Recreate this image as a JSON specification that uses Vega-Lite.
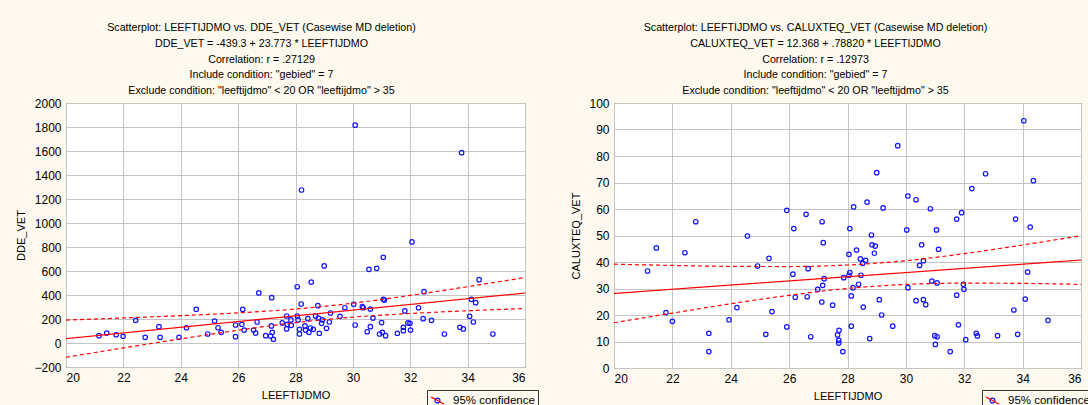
{
  "$schema": "https://vega.github.io/schema/vega-lite/v6.json",
  "background": "#fdf9ee",
  "padding": {"left": 15, "top": 21, "right": 0, "bottom": 0},
  "resolve": {"scale": {"color": "independent", "strokeDash": "independent"}, "legend": {"color": "independent", "strokeDash": "independent"}},
  "config": {
    "font": "Liberation Sans",
    "view": {"stroke": "#3a3a3a", "strokeWidth": 1, "fill": "white"},
    "axis": {"grid": true, "gridColor": "#c4c4c4", "gridWidth": 1, "domain": false, "ticks": false, "labelFontSize": 12, "labelColor": "#000", "titleFontSize": 11, "titleFontWeight": "normal", "titleColor": "#000", "labelPadding": 5, "labelOverlap": false, "format": "d"},
    "title": {"fontSize": 10.7, "fontWeight": "normal", "color": "#000", "lineHeight": 15.8, "offset": 6, "dy": 6, "frame": "group", "anchor": "middle"},
    "concat": {"spacing": 31}
  },
  "datasets": {
    "dde": [
      {"x":21.15,"y":61},{"x":21.42,"y":83},{"x":21.75,"y":69},{"x":21.99,"y":56},{"x":22.43,"y":189},{"x":22.76,"y":47},{"x":23.24,"y":136},{"x":23.28,"y":47},{"x":23.94,"y":47},{"x":24.2,"y":127},{"x":24.54,"y":281},{"x":24.94,"y":75},{"x":25.18,"y":183},{"x":25.3,"y":127},{"x":25.41,"y":89},{"x":25.91,"y":150},{"x":25.91,"y":53},{"x":26.16,"y":281},{"x":26.13,"y":156},{"x":26.21,"y":108},{"x":26.54,"y":108},{"x":26.61,"y":83},{"x":26.66,"y":175},{"x":26.72,"y":417},{"x":26.96,"y":61},{"x":27.17,"y":378},{"x":27.16,"y":142},{"x":27.13,"y":58},{"x":27.19,"y":89},{"x":27.23,"y":31},{"x":27.54,"y":167},{"x":27.69,"y":225},{"x":27.69,"y":117},{"x":27.71,"y":156},{"x":27.84,"y":192},{"x":27.85,"y":147},{"x":28.06,"y":469},{"x":28.06,"y":225},{"x":28.09,"y":192},{"x":28.14,"y":114},{"x":28.14,"y":75},{"x":28.2,"y":325},{"x":28.21,"y":1275},{"x":28.33,"y":142},{"x":28.35,"y":108},{"x":28.43,"y":203},{"x":28.47,"y":89},{"x":28.52,"y":125},{"x":28.55,"y":508},{"x":28.62,"y":114},{"x":28.7,"y":225},{"x":28.78,"y":311},{"x":28.8,"y":208},{"x":28.83,"y":81},{"x":28.91,"y":164},{"x":28.94,"y":192},{"x":29.0,"y":642},{"x":29.08,"y":122},{"x":29.18,"y":175},{"x":29.22,"y":250},{"x":29.55,"y":222},{"x":29.72,"y":294},{"x":30.03,"y":322},{"x":30.08,"y":150},{"x":30.08,"y":1815},{"x":30.33,"y":303},{"x":30.36,"y":294},{"x":30.5,"y":94},{"x":30.56,"y":614},{"x":30.61,"y":136},{"x":30.61,"y":283},{"x":30.7,"y":208},{"x":30.83,"y":622},{"x":30.93,"y":75},{"x":31.0,"y":170},{"x":31.03,"y":89},{"x":31.06,"y":714},{"x":31.06,"y":364},{"x":31.1,"y":358},{"x":31.14,"y":61},{"x":31.55,"y":81},{"x":31.76,"y":131},{"x":31.76,"y":103},{"x":31.81,"y":267},{"x":31.92,"y":167},{"x":31.99,"y":164},{"x":32.01,"y":108},{"x":32.06,"y":842},{"x":32.29,"y":294},{"x":32.45,"y":203},{"x":32.48,"y":428},{"x":32.74,"y":189},{"x":33.19,"y":75},{"x":33.73,"y":131},{"x":33.79,"y":1586},{"x":33.85,"y":117},{"x":34.07,"y":222},{"x":34.13,"y":364},{"x":34.2,"y":175},{"x":34.28,"y":336},{"x":34.4,"y":528},{"x":34.88,"y":75}
    ],
    "ddeFit": [
      {"x":20,"fit":36.2,"lo":-118.8,"hi":191.2},
      {"x":22,"fit":83.7,"lo":-41.3,"hi":208.7},
      {"x":24,"fit":131.2,"lo":34.5,"hi":227.9},
      {"x":26,"fit":178.8,"lo":106.6,"hi":251.0},
      {"x":28,"fit":226.3,"lo":169.5,"hi":283.1},
      {"x":30,"fit":273.9,"lo":215.8,"hi":332.0},
      {"x":32,"fit":321.4,"lo":246.2,"hi":396.6},
      {"x":34,"fit":369.0,"lo":268.5,"hi":469.5},
      {"x":36,"fit":416.5,"lo":287.5,"hi":545.5}
    ],
    "calux": [
      {"x":21.15,"y":36.6},{"x":21.45,"y":45.3},{"x":21.78,"y":20.9},{"x":22.0,"y":17.6},{"x":22.43,"y":43.5},{"x":22.8,"y":55.2},{"x":23.25,"y":13.1},{"x":23.25,"y":6.2},{"x":23.94,"y":18.2},{"x":24.21,"y":22.8},{"x":24.57,"y":49.8},{"x":24.92,"y":38.5},{"x":25.2,"y":12.7},{"x":25.31,"y":41.4},{"x":25.41,"y":21.3},{"x":25.92,"y":59.5},{"x":25.92,"y":15.5},{"x":26.13,"y":35.4},{"x":26.16,"y":52.6},{"x":26.21,"y":26.7},{"x":26.58,"y":58},{"x":26.62,"y":26.9},{"x":26.65,"y":37.5},{"x":26.74,"y":11.8},{"x":26.98,"y":29.7},{"x":27.12,"y":24.9},{"x":27.13,"y":55.2},{"x":27.15,"y":31.2},{"x":27.17,"y":47.3},{"x":27.2,"y":33.7},{"x":27.49,"y":23.7},{"x":27.66,"y":12.5},{"x":27.7,"y":10.4},{"x":27.7,"y":9.4},{"x":27.71,"y":14.2},{"x":27.84,"y":6.2},{"x":27.87,"y":34.1},{"x":28.05,"y":42.9},{"x":28.05,"y":35},{"x":28.08,"y":36},{"x":28.08,"y":52.6},{"x":28.13,"y":27.2},{"x":28.13,"y":15.8},{"x":28.19,"y":30.3},{"x":28.21,"y":60.8},{"x":28.31,"y":44.5},{"x":28.38,"y":31.6},{"x":28.44,"y":41.2},{"x":28.46,"y":35},{"x":28.52,"y":39.5},{"x":28.54,"y":23},{"x":28.62,"y":40.6},{"x":28.67,"y":62.6},{"x":28.76,"y":11.1},{"x":28.82,"y":50.2},{"x":28.84,"y":46.5},{"x":28.92,"y":43.3},{"x":28.95,"y":46},{"x":29.0,"y":73.7},{"x":29.09,"y":25.8},{"x":29.17,"y":20},{"x":29.22,"y":60.4},{"x":29.55,"y":15.8},{"x":29.72,"y":83.9},{"x":30.03,"y":52.1},{"x":30.07,"y":30.3},{"x":30.07,"y":64.9},{"x":30.35,"y":25.4},{"x":30.35,"y":63.5},{"x":30.47,"y":38.7},{"x":30.54,"y":46.5},{"x":30.6,"y":40.5},{"x":30.6,"y":25.8},{"x":30.68,"y":23.9},{"x":30.84,"y":60.1},{"x":30.89,"y":32.8},{"x":30.99,"y":12.2},{"x":31.01,"y":8.9},{"x":31.05,"y":52.1},{"x":31.07,"y":32.1},{"x":31.07,"y":11.8},{"x":31.12,"y":44.8},{"x":31.52,"y":6.2},{"x":31.74,"y":27.5},{"x":31.74,"y":56.2},{"x":31.8,"y":16.3},{"x":31.91,"y":58.6},{"x":31.97,"y":31.6},{"x":31.99,"y":29.7},{"x":32.05,"y":10.7},{"x":32.26,"y":67.7},{"x":32.41,"y":13.1},{"x":32.45,"y":12.1},{"x":32.73,"y":73.3},{"x":33.14,"y":12.2},{"x":33.7,"y":21.9},{"x":33.76,"y":56.2},{"x":33.83,"y":12.7},{"x":34.04,"y":93.3},{"x":34.09,"y":26},{"x":34.17,"y":36.2},{"x":34.26,"y":53.2},{"x":34.37,"y":70.7},{"x":34.87,"y":18}
    ],
    "caluxFit": [
      {"x":20,"fit":28.13,"lo":17.08,"hi":39.18},
      {"x":22,"fit":29.71,"lo":20.72,"hi":38.70},
      {"x":24,"fit":31.30,"lo":24.24,"hi":38.36},
      {"x":26,"fit":32.86,"lo":27.43,"hi":38.29},
      {"x":28,"fit":34.44,"lo":30.02,"hi":38.86},
      {"x":30,"fit":36.01,"lo":31.53,"hi":40.49},
      {"x":32,"fit":37.59,"lo":32.02,"hi":43.16},
      {"x":34,"fit":39.17,"lo":31.92,"hi":46.42},
      {"x":36,"fit":40.74,"lo":31.55,"hi":49.93}
    ]
  },
  "hconcat": [
    {
      "width": 459,
      "height": 264,
      "title": {"text": ["Scatterplot: LEEFTIJDMO vs. DDE_VET (Casewise MD deletion)", "DDE_VET = -439.3 + 23.773 * LEEFTIJDMO", "Correlation: r = .27129", "Include condition: \"gebied\" = 7", "Exclude condition: \"leeftijdmo\" < 20 OR \"leeftijdmo\" > 35"], "dx": -34},
      "encoding": {
        "x": {"field": "x", "type": "quantitative", "scale": {"domain": [20, 36], "nice": false}, "axis": {"title": "LEEFTIJDMO", "values": [20,22,24,26,28,30,32,34,36], "titlePadding": 6}}
      },
      "layer": [
        {
          "data": {"name": "dde"},
          "mark": {"type": "point", "filled": false, "size": 20, "strokeWidth": 1.2, "opacity": 1},
          "encoding": {
            "y": {"field": "y", "type": "quantitative", "scale": {"domain": [-200, 2000], "nice": false}, "axis": {"title": "DDE_VET", "values": [-200,0,200,400,600,800,1000,1200,1400,1600,1800,2000], "titlePadding": 7}},
            "color": {"datum": "95% confidence", "scale": {"range": ["#1414ff"]}, "legend": {"orient": "none", "legendX": 361, "legendY": 287, "title": null, "labelFontSize": 11.5, "labelColor": "#000", "labelOffset": 8, "strokeColor": "#333", "padding": 3, "symbolType": "M0.38,0A0.38,0.38,0,1,1,-0.38,0A0.38,0.38,0,1,1,0.38,0Z", "symbolSize": 169, "symbolStrokeWidth": 1.2, "symbolFillColor": "transparent"}}
          }
        },
        {
          "data": {"name": "ddeFit"},
          "mark": {"type": "line", "color": "#ff0000", "strokeWidth": 1.2, "interpolate": "monotone"},
          "encoding": {
            "y": {"field": "fit", "type": "quantitative", "axis": {"title": "DDE_VET", "values": [-200,0,200,400,600,800,1000,1200,1400,1600,1800,2000], "titlePadding": 7}},
            "strokeDash": {"datum": "fit", "scale": {"range": [[1, 0]]}, "legend": {"orient": "none", "legendX": 361, "legendY": 287, "title": null, "labelExpr": "''", "padding": 3, "symbolType": "M-1,-0.55L1,0.55", "symbolSize": 169, "symbolStrokeColor": "#ff0000", "symbolStrokeWidth": 1.2}}
          }
        },
        {
          "data": {"name": "ddeFit"},
          "mark": {"type": "line", "color": "#ff0000", "strokeWidth": 1.2, "strokeDash": [4, 3], "interpolate": "monotone"},
          "encoding": {"y": {"field": "lo", "type": "quantitative", "axis": {"title": "DDE_VET", "values": [-200,0,200,400,600,800,1000,1200,1400,1600,1800,2000], "titlePadding": 7}}}
        },
        {
          "data": {"name": "ddeFit"},
          "mark": {"type": "line", "color": "#ff0000", "strokeWidth": 1.2, "strokeDash": [4, 3], "interpolate": "monotone"},
          "encoding": {"y": {"field": "hi", "type": "quantitative", "axis": {"title": "DDE_VET", "values": [-200,0,200,400,600,800,1000,1200,1400,1600,1800,2000], "titlePadding": 7}}}
        }
      ]
    },
    {
      "width": 467,
      "height": 265,
      "title": {"text": ["Scatterplot: LEEFTIJDMO vs. CALUXTEQ_VET (Casewise MD deletion)", "CALUXTEQ_VET = 12.368 + .78820 * LEEFTIJDMO", "Correlation: r = .12973", "Include condition: \"gebied\" = 7", "Exclude condition: \"leeftijdmo\" < 20 OR \"leeftijdmo\" > 35"], "dx": -32},
      "encoding": {
        "x": {"field": "x", "type": "quantitative", "scale": {"domain": [20, 36], "nice": false}, "axis": {"title": "LEEFTIJDMO", "values": [20,22,24,26,28,30,32,34,36], "titlePadding": 6}}
      },
      "layer": [
        {
          "data": {"name": "calux"},
          "mark": {"type": "point", "filled": false, "size": 20, "strokeWidth": 1.2, "opacity": 1},
          "encoding": {
            "y": {"field": "y", "type": "quantitative", "scale": {"domain": [0, 100], "nice": false}, "axis": {"title": "CALUXTEQ_VET", "values": [0,10,20,30,40,50,60,70,80,90,100], "titlePadding": 7}},
            "color": {"datum": "95% confidence", "scale": {"range": ["#1414ff"]}, "legend": {"orient": "none", "legendX": 368, "legendY": 287, "title": null, "labelFontSize": 11.5, "labelColor": "#000", "labelOffset": 8, "strokeColor": "#333", "padding": 3, "symbolType": "M0.38,0A0.38,0.38,0,1,1,-0.38,0A0.38,0.38,0,1,1,0.38,0Z", "symbolSize": 169, "symbolStrokeWidth": 1.2, "symbolFillColor": "transparent"}}
          }
        },
        {
          "data": {"name": "caluxFit"},
          "mark": {"type": "line", "color": "#ff0000", "strokeWidth": 1.2, "interpolate": "monotone"},
          "encoding": {
            "y": {"field": "fit", "type": "quantitative", "axis": {"title": "CALUXTEQ_VET", "values": [0,10,20,30,40,50,60,70,80,90,100], "titlePadding": 7}},
            "strokeDash": {"datum": "fit", "scale": {"range": [[1, 0]]}, "legend": {"orient": "none", "legendX": 368, "legendY": 287, "title": null, "labelExpr": "''", "padding": 3, "symbolType": "M-1,-0.55L1,0.55", "symbolSize": 169, "symbolStrokeColor": "#ff0000", "symbolStrokeWidth": 1.2}}
          }
        },
        {
          "data": {"name": "caluxFit"},
          "mark": {"type": "line", "color": "#ff0000", "strokeWidth": 1.2, "strokeDash": [4, 3], "interpolate": "monotone"},
          "encoding": {"y": {"field": "lo", "type": "quantitative", "axis": {"title": "CALUXTEQ_VET", "values": [0,10,20,30,40,50,60,70,80,90,100], "titlePadding": 7}}}
        },
        {
          "data": {"name": "caluxFit"},
          "mark": {"type": "line", "color": "#ff0000", "strokeWidth": 1.2, "strokeDash": [4, 3], "interpolate": "monotone"},
          "encoding": {"y": {"field": "hi", "type": "quantitative", "axis": {"title": "CALUXTEQ_VET", "values": [0,10,20,30,40,50,60,70,80,90,100], "titlePadding": 7}}}
        }
      ]
    }
  ]
}
